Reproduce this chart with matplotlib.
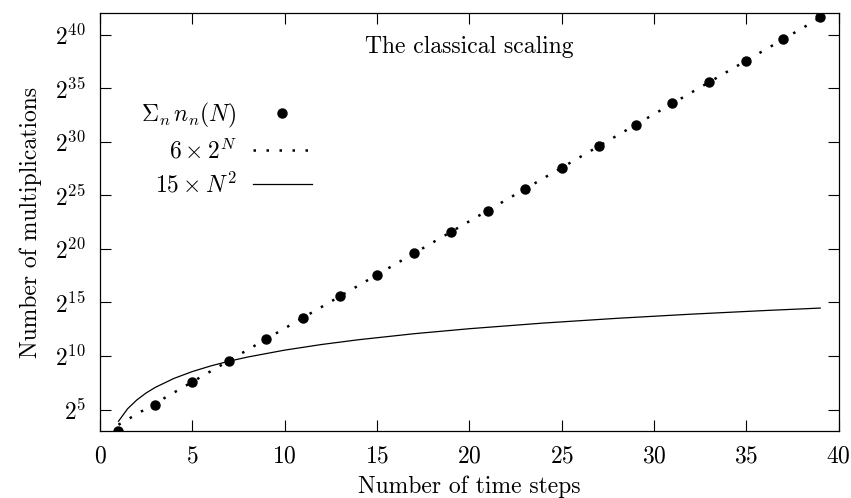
import numpy as np
import matplotlib
matplotlib.use("Agg")
import matplotlib.pyplot as plt

plt.rcParams['font.family'] = 'serif'
plt.rcParams['font.serif'] = ['cmr10', 'DejaVu Serif']
plt.rcParams['mathtext.fontset'] = 'cm'
plt.rcParams['axes.formatter.use_mathtext'] = True

# Data: sum of multiplications (log2 exponents)
steps = [1, 3, 5, 7, 9, 11, 13, 15, 17, 19, 21, 23, 25, 27, 29, 31, 33, 35, 37, 39]
log2_counts = [3.0, 5.45, 7.55, 9.57, 11.58, 13.58, 15.58, 17.58, 19.58, 21.58,
               23.58, 25.58, 27.58, 29.58, 31.58, 33.58, 35.58, 37.58, 39.58, 41.62]

# Exponential reference 6 x 2^N (end points)
exp_x = [1, 39]
exp_y = [12, 3298534883328]

# Quadratic reference 15 x N^2 (read points)
quad_x = [1, 1.5, 2, 2.5, 3, 4, 5, 6, 7, 8, 10, 12, 14, 17, 20, 24, 28, 32, 36, 39]
quad_y = [15, 34, 60, 94, 135, 240, 375, 540, 735, 960, 1500, 2160, 2940, 4335,
          6000, 8640, 11760, 15360, 19440, 22815]

FS = 17

fig = plt.figure(figsize=(8.51, 4.98), dpi=100)
ax = fig.add_axes([100/851, 1 - 431/498, (838.7-100)/851, (431-13.3)/498])

counts = [2.0**e for e in log2_counts]
ax.plot(steps, counts, 'o', color='black', markersize=6.5, label=r'$\Sigma_n\, n_n(N)$')
ax.plot(exp_x, exp_y, color='black', linewidth=1.8, linestyle=(0, (1, 4.2)),
        label=r'$6\times 2^N$')
ax.plot(quad_x, quad_y, color='black', linewidth=0.9, label=r'$15\times N^2$')

ax.set_yscale('log', base=2)
ax.set_xlim(0, 40)
ax.set_ylim(2**3, 2**42)
ax.set_xticks(range(0, 41, 5))
yt = [5, 10, 15, 20, 25, 30, 35, 40]
ax.set_yticks([2.0**e for e in yt])
ax.set_yticklabels([r'$2^{%d}$' % e for e in yt])
ax.minorticks_off()
ax.tick_params(direction='in', length=8, width=0.8, top=True, right=True,
               labelsize=FS)
ax.tick_params(axis='x', pad=10)
ax.tick_params(axis='y', pad=10)
for s in ax.spines.values():
    s.set_linewidth(0.9)

ax.set_xlabel('Number of time steps', fontsize=FS, labelpad=6)
ax.set_ylabel('Number of multiplications', fontsize=FS, labelpad=10)
ax.text(20, 2**38.9, 'The classical scaling', ha='center', va='center', fontsize=FS)

leg = ax.legend(loc='upper right', bbox_to_anchor=(0.287, 0.79), frameon=False,
                markerfirst=False, fontsize=FS, handlelength=2.5,
                handletextpad=0.7, labelspacing=0.36, borderaxespad=0.0,
                borderpad=0.0)
for t in leg.get_texts():
    t.set_ha('right')
leg._legend_box.align = 'right'

fig.savefig('out.png', dpi=100)
